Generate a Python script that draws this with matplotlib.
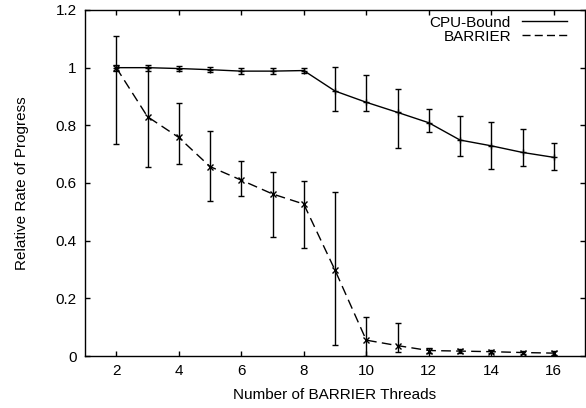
import matplotlib
matplotlib.use("Agg")
import matplotlib.pyplot as plt
from matplotlib.lines import Line2D

plt.rcParams['font.family'] = ['Liberation Sans', 'DejaVu Sans']

threads = [2, 3, 4, 5, 6, 7, 8, 9, 10, 11, 12, 13, 14, 15, 16]

cpu_mean = [1.0, 1.0, 0.997, 0.993, 0.988, 0.988, 0.99, 0.919, 0.88, 0.845, 0.809, 0.749, 0.729, 0.706, 0.689]
cpu_low = [0.99, 0.99, 0.988, 0.984, 0.978, 0.978, 0.98, 0.851, 0.851, 0.723, 0.778, 0.694, 0.647, 0.659, 0.645]
cpu_high = [1.01, 1.01, 1.006, 1.002, 0.998, 0.998, 1.0, 1.003, 0.975, 0.925, 0.856, 0.832, 0.81, 0.786, 0.74]

bar_mean = [1.0, 0.83, 0.758, 0.657, 0.61, 0.562, 0.527, 0.298, 0.055, 0.036, 0.019, 0.017, 0.015, 0.012, 0.01]
bar_low = [0.734, 0.657, 0.666, 0.539, 0.555, 0.412, 0.376, 0.038, 0.0, 0.014, 0.012, 0.011, 0.009, 0.007, 0.004]
bar_high = [1.11, 1.003, 0.879, 0.781, 0.677, 0.639, 0.607, 0.57, 0.134, 0.113, 0.027, 0.024, 0.022, 0.018, 0.016]

y_ticks = [0, 0.2, 0.4, 0.6, 0.8, 1.0, 1.2]
y_labels = ['0', '0.2', '0.4', '0.6', '0.8', '1', '1.2']
x_ticks = [2, 4, 6, 8, 10, 12, 14, 16]

fig = plt.figure(figsize=(5.86, 4.08), dpi=100)
ax = fig.add_axes([85 / 586, 52 / 408, 500 / 586, 346 / 408])

dash = (7, 3.8)

cpu_err = [[m - l for m, l in zip(cpu_mean, cpu_low)], [h - m for m, h in zip(cpu_mean, cpu_high)]]
bar_err = [[m - l for m, l in zip(bar_mean, bar_low)], [h - m for m, h in zip(bar_mean, bar_high)]]

ax.errorbar(threads, cpu_mean, yerr=cpu_err, color='black', lw=1, elinewidth=1,
            capsize=2, capthick=1, marker='+', ms=5, mew=1)
line, caps, bars = ax.errorbar(threads, bar_mean, yerr=bar_err, color='black', lw=1, elinewidth=1,
                               capsize=2, capthick=1, marker='x', ms=4, mew=1)
line.set_dashes(dash)

ax.set_xlim(1, 17)
ax.set_ylim(0, 1.2)
ax.set_xticks(x_ticks)
ax.set_yticks(y_ticks, labels=y_labels)
ax.tick_params(direction='in', top=True, right=True, length=3.5, width=1, labelsize=11, pad=6)
for s in ax.spines.values():
    s.set_linewidth(1)

ax.set_xlabel('Number of BARRIER Threads', fontsize=11, labelpad=7)
ax.set_ylabel('Relative Rate of Progress', fontsize=11, labelpad=19)

handles = [Line2D([], [], color='black', lw=1),
           Line2D([], [], color='black', lw=1, dashes=(5.8, 3))]
ax.legend(handles, ['CPU-Bound', 'BARRIER'], loc='upper right', frameon=False,
          bbox_to_anchor=(0.964, 0.984), borderpad=0, borderaxespad=0,
          markerfirst=False, fontsize=11, handlelength=2.95, handletextpad=0.72,
          labelspacing=0.0)

fig.savefig('out.png', dpi=100)
